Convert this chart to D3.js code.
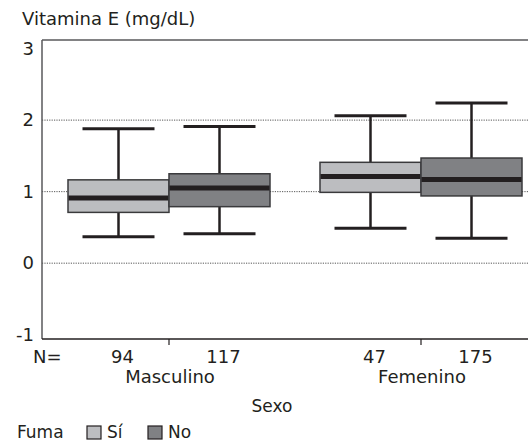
<!DOCTYPE html>
<html>
<head>
<meta charset="utf-8">
<script src="https://cdn.jsdelivr.net/npm/d3@7"></script>
<style>
  body { margin: 0; background: #fff; }
  text { font-family: "DejaVu Sans", "Liberation Sans", sans-serif; fill: #231f20; }
</style>
</head>
<body>
<div id="main"></div>
<script>
// data
const sexo = ["Masculino", "Femenino"];
const fuma = ["Sí", "No"];
const counts = [94, 117, 47, 175];
const whiskerLow  = [0.37, 0.41, 0.49, 0.35];
const boxLow      = [0.71, 0.79, 0.99, 0.94];
const medians     = [0.91, 1.05, 1.21, 1.17];
const boxHigh     = [1.165, 1.25, 1.41, 1.47];
const whiskerHigh = [1.88, 1.91, 2.06, 2.24];
const yTicks = [-1, 0, 1, 2, 3];
const gridTicks = [0, 1, 2];

const rows = [];
sexo.forEach(function(s, i) {
    fuma.forEach(function(f, j) {
        const k = i * 2 + j;
        rows.push({sexo: s, fuma: f, n: counts[k], lo: whiskerLow[k], q1: boxLow[k],
                   med: medians[k], q3: boxHigh[k], hi: whiskerHigh[k]});
    });
});

// dimensions
const svg_width = 528, svg_height = 444;
const plot = {left: 42, right: 547, top: 40, bottom: 339};

const svg = d3.select("#main").append("svg")
    .attr("width", svg_width)
    .attr("height", svg_height);

// scales
const x0 = d3.scaleBand().domain(sexo).range([43, 547]).padding(0);
const x1 = d3.scaleBand().domain(fuma).range([0, x0.bandwidth()])
    .paddingInner(0).paddingOuter(0.2475);
const yScale = d3.scaleLinear().domain([-1.06, 3.12]).range([plot.bottom, plot.top]);

const color = d3.scaleOrdinal().domain(fuma).range(["#bcbdc0", "#808184"]);

// gridlines
svg.append("g").selectAll("line")
    .data(gridTicks).enter().append("line")
    .attr("x1", plot.left).attr("x2", svg_width)
    .attr("y1", function(d) { return yScale(d); })
    .attr("y2", function(d) { return yScale(d); })
    .attr("stroke", "#555")
    .attr("stroke-width", 1)
    .attr("stroke-dasharray", "1.2,1.2");

// frame
svg.append("line").attr("x1", plot.left).attr("x2", svg_width)
    .attr("y1", plot.top).attr("y2", plot.top)
    .attr("stroke", "#58595b").attr("stroke-width", 1.5);
svg.append("line").attr("x1", plot.left).attr("x2", plot.left)
    .attr("y1", plot.top).attr("y2", plot.bottom)
    .attr("stroke", "#58595b").attr("stroke-width", 1.5);

// x-axis
const xAxis = svg.append("g")
    .attr("transform", "translate(0," + plot.bottom + ")")
    .call(d3.axisBottom(x0).tickSize(6).tickFormat(""));
xAxis.select(".domain").attr("d", "M" + plot.left + ",0H" + svg_width)
    .attr("stroke", "#231f20").attr("stroke-width", 1.5);
xAxis.selectAll(".tick line").attr("stroke", "#231f20").attr("stroke-width", 1.2);

// y labels
svg.append("g").selectAll("text")
    .data(yTicks).enter().append("text")
    .attr("x", 34)
    .attr("y", function(d) { return yScale(d) + 6; })
    .attr("text-anchor", "end")
    .style("font-size", "18px")
    .text(function(d) { return d; });

// boxes
const boxes = svg.append("g").selectAll("g")
    .data(rows).enter().append("g")
    .attr("transform", function(d) { return "translate(" + (x0(d.sexo) + x1(d.fuma)) + ",0)"; });
const bw = x1.bandwidth();
const capW = 72;

boxes.append("line")
    .attr("x1", bw / 2).attr("x2", bw / 2)
    .attr("y1", function(d) { return yScale(d.hi); })
    .attr("y2", function(d) { return yScale(d.lo); })
    .attr("stroke", "#231f20").attr("stroke-width", 2.5);
boxes.append("line")
    .attr("x1", (bw - capW) / 2).attr("x2", (bw + capW) / 2)
    .attr("y1", function(d) { return yScale(d.hi); })
    .attr("y2", function(d) { return yScale(d.hi); })
    .attr("stroke", "#231f20").attr("stroke-width", 3);
boxes.append("line")
    .attr("x1", (bw - capW) / 2).attr("x2", (bw + capW) / 2)
    .attr("y1", function(d) { return yScale(d.lo); })
    .attr("y2", function(d) { return yScale(d.lo); })
    .attr("stroke", "#231f20").attr("stroke-width", 3);
boxes.append("rect")
    .attr("x", 0).attr("width", bw)
    .attr("y", function(d) { return yScale(d.q3); })
    .attr("height", function(d) { return yScale(d.q1) - yScale(d.q3); })
    .attr("fill", function(d) { return color(d.fuma); })
    .attr("stroke", "#3a3a3c").attr("stroke-width", 1.5);
boxes.append("line")
    .attr("x1", 0.5).attr("x2", bw - 0.5)
    .attr("y1", function(d) { return yScale(d.med); })
    .attr("y2", function(d) { return yScale(d.med); })
    .attr("stroke", "#231f20").attr("stroke-width", 5);

// N labels
svg.append("text").attr("x", 33).attr("y", 363)
    .style("font-size", "18px").text("N=");
svg.append("g").selectAll("text")
    .data(rows).enter().append("text")
    .attr("x", function(d) { return x0(d.sexo) + x1(d.fuma) + bw / 2 + 4; })
    .attr("y", 363)
    .attr("text-anchor", "middle")
    .style("font-size", "18px")
    .text(function(d) { return d.n; });

// group labels
svg.append("g").selectAll("text")
    .data(sexo).enter().append("text")
    .attr("x", function(d) { return x0(d) + x0.bandwidth() / 2 + 1; })
    .attr("y", 383)
    .attr("text-anchor", "middle")
    .style("font-size", "18px")
    .text(function(d) { return d; });

// axis titles
svg.append("text").attr("x", 272).attr("y", 412)
    .attr("text-anchor", "middle").style("font-size", "17px").text("Sexo");
svg.append("text").attr("x", 22).attr("y", 25)
    .style("font-size", "18px").text("Vitamina E (mg/dL)");

// legend
svg.append("text").attr("x", 17).attr("y", 438)
    .style("font-size", "17px").text("Fuma");
const legendX = [87, 148];
const legend = svg.append("g").selectAll("g")
    .data(fuma).enter().append("g")
    .attr("transform", function(d, i) { return "translate(" + legendX[i] + ",426)"; });
legend.append("rect")
    .attr("width", 14).attr("height", 13)
    .attr("fill", function(d) { return color(d); })
    .attr("stroke", "#231f20").attr("stroke-width", 1.2);
legend.append("text")
    .attr("x", 20).attr("y", 12)
    .style("font-size", "17px")
    .text(function(d) { return d; });
</script>
</body>
</html>
